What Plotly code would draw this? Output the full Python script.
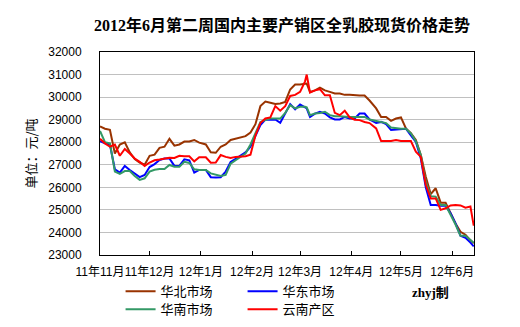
import plotly.graph_objects as go

# Trading-day samples (Nov 2011 - Jun 2012)
dates = [
    "2011-11-01", "2011-11-04", "2011-11-07", "2011-11-10", "2011-11-13", "2011-11-16",
    "2011-11-19", "2011-11-22", "2011-11-25", "2011-11-28", "2011-12-01", "2011-12-04",
    "2011-12-07", "2011-12-10", "2011-12-13", "2011-12-16", "2011-12-19", "2011-12-22",
    "2011-12-25", "2011-12-28", "2011-12-31", "2012-01-04", "2012-01-07", "2012-01-10",
    "2012-01-13", "2012-01-16", "2012-01-19", "2012-01-22", "2012-01-25", "2012-01-28",
    "2012-01-31", "2012-02-03", "2012-02-06", "2012-02-09", "2012-02-12", "2012-02-15",
    "2012-02-18", "2012-02-21", "2012-02-24", "2012-02-27", "2012-03-01", "2012-03-04",
    "2012-03-05", "2012-03-07", "2012-03-10", "2012-03-13", "2012-03-16", "2012-03-19",
    "2012-03-22", "2012-03-25", "2012-03-28", "2012-03-31", "2012-04-03", "2012-04-06",
    "2012-04-09", "2012-04-12", "2012-04-16", "2012-04-19", "2012-04-22", "2012-04-25",
    "2012-04-28", "2012-05-01", "2012-05-04", "2012-05-07", "2012-05-10", "2012-05-13",
    "2012-05-16", "2012-05-19", "2012-05-22", "2012-05-25", "2012-05-28", "2012-05-31",
    "2012-06-03", "2012-06-06", "2012-06-09", "2012-06-12", "2012-06-14",
]

# 华北市场
north = [
    28700, 28600, 28550, 27500, 27900, 28000, 27550, 27250, 27100, 27000,
    27400, 27450, 27750, 27800, 28150, 27850, 27900, 28030, 28030, 28100,
    27980, 27900, 27550, 27530, 27800, 27900, 28100, 28150, 28200, 28270,
    28430, 28800, 29600, 29800, 29750, 29700, 29720, 29790, 30340, 30560,
    30560, 30600, 30600, 30230, 30300, 30420, 30300, 30230, 30160, 30160,
    30100, 30100, 30070, 30070, 30070, 29850, 29500, 29120, 29120, 28950,
    29050, 29100, 28610, 28400, 28100, 27430, 26470, 25700, 25960, 25320,
    25320, 24850, 24400, 24030, 23900, 23650, 23520,
]

# 华东市场
east = [
    28050, 27950, 27900, 26800, 26650, 26950, 26770, 26600, 26450, 26550,
    26900, 27030, 27210, 27280, 27280, 26950, 26950, 27240, 27200, 26650,
    26770, 26770, 26450, 26440, 26450, 26700, 27130, 27260, 27400, 27550,
    27800, 28300, 28760, 29000, 29010, 29010, 28860, 29270, 29690, 29460,
    29670, 29550, 29500, 29120, 29270, 29350, 29270, 29100, 29010, 29010,
    29120, 29050, 29050, 29270, 29270, 29010, 28850, 28900, 28800, 28540,
    28560, 28600, 28600, 28300, 28020, 27280, 26000, 25220, 25220, 25180,
    25180, 24850, 24400, 23850, 23760, 23550, 23380,
]

# 华南市场
south = [
    28500, 28000, 27950, 26700, 26600, 26720, 26720, 26500, 26330, 26400,
    26700, 26780, 26810, 26810, 26990, 26910, 26910, 27130, 27080, 26800,
    26770, 26770, 26620, 26550, 26500, 26550, 27050, 27200, 27350, 27500,
    27900, 28400, 28900, 28980, 29050, 29050, 29050, 29300, 29640, 29500,
    29570, 29570, 29550, 29200, 29270, 29300, 29350, 29200, 29150, 29150,
    29120, 29120, 29120, 29120, 29120, 29010, 28950, 28900, 28850, 28650,
    28620, 28600, 28600, 28390, 28050, 27430, 26250, 25610, 25590, 25220,
    25220, 24800, 24350, 23850, 23850, 23670, 23540,
]

# 云南产区
yunnan = [
    28150, 27950, 27800, 27900, 27400, 27700, 27500, 27280, 27130, 26950,
    27100, 27200, 27230, 27280, 27310, 27300, 27400, 27380, 27380, 27150,
    27330, 27330, 27090, 27100, 27430, 27350, 27300, 27350, 27370, 27380,
    27450, 28300, 28850, 29050, 29100, 29600, 29400, 29600, 30050, 30100,
    30230, 30700, 31000, 30200, 30300, 30350, 30080, 30080, 29300, 29200,
    29400, 29100, 29000, 28980, 28900, 28850, 28610, 28050, 28050, 28050,
    28100, 28050, 28050, 28050, 27580, 27350, 26110, 25510, 25510, 25000,
    25070, 25200, 25220, 25200, 25100, 25150, 24300,
]

month_ticks = ["2011-11-01", "2011-12-01", "2012-01-01", "2012-02-01",
               "2012-03-01", "2012-04-01", "2012-05-01", "2012-06-01"]
month_labels = ["11年11月", "11年12月", "12年1月", "12年2月",
                "12年3月", "12年4月", "12年5月", "12年6月"]

series = [
    ("华北市场", north, "#993300", "legend"),
    ("华东市场", east, "#0000FF", "legend"),
    ("华南市场", south, "#339966", "legend2"),
    ("云南产区", yunnan, "#FF0000", "legend2"),
]

CJK = "Noto Sans CJK SC"
SANS = "Liberation Sans, " + CJK
SERIF = "Liberation Serif, " + CJK

fig = go.Figure()
for name, vals, color, leg in series:
    fig.add_trace(go.Scatter(
        x=dates, y=vals, name=name, mode="lines",
        line=dict(color=color, width=2),
        legend=leg,
    ))

legend_common = dict(
    orientation="h", xanchor="left", yanchor="top",
    entrywidth=77, entrywidthmode="pixels",
    font=dict(family=CJK, size=13, color="#000000"),
    bgcolor="rgba(0,0,0,0)", borderwidth=0,
    itemclick=False, itemdoubleclick=False,
)

fig.update_layout(
    width=520, height=327,
    margin=dict(l=100, r=46, t=52, b=72, autoexpand=False),
    paper_bgcolor="#FFFFFF", plot_bgcolor="#FFFFFF",
    showlegend=True,
    legend=dict(x=0.055, y=-0.105, **legend_common),
    legend2=dict(x=0.055, y=-0.194, **legend_common),
    xaxis=dict(
        type="date", automargin=False,
        range=["2011-11-01", "2012-06-14 04:00"],
        tickvals=month_ticks, ticktext=month_labels, tickangle=0,
        ticks="inside", ticklen=4, tickcolor="#000000", tickwidth=1,
        showgrid=False, zeroline=False,
        showline=True, linecolor="#000000", linewidth=1, mirror=True,
        tickfont=dict(family=SANS, size=12, color="#000000"),
        ticklabelstandoff=6,
    ),
    yaxis=dict(
        range=[23000, 32000], dtick=1000, tick0=23000, automargin=False,
        showgrid=True, gridcolor="#C0C0C0", gridwidth=1,
        ticks="", zeroline=False,
        showline=True, linecolor="#000000", linewidth=1, mirror=True,
        tickfont=dict(family=SANS, size=12, color="#000000"),
        tickformat="d", ticklabelstandoff=15,
    ),
    annotations=[
        dict(text="2012年6月第二周国内主要产销区全乳胶现货价格走势",
             xref="paper", yref="paper", x=0.487, y=1.133,
             xanchor="center", yanchor="middle", showarrow=False,
             font=dict(family=SERIF, size=16, color="#000000", weight="bold")),
        dict(text="单位：元/吨", textangle=-90,
             xref="paper", yref="paper", x=-0.187, y=0.5,
             xanchor="center", yanchor="middle", showarrow=False,
             font=dict(family=CJK, size=13, color="#000000")),
        dict(text="zhyj制",
             xref="paper", yref="paper", x=0.884, y=-0.186,
             xanchor="center", yanchor="middle", showarrow=False,
             font=dict(family=SERIF, size=13, color="#000000", weight="bold")),
    ],
)

fig.write_html("out.html")
